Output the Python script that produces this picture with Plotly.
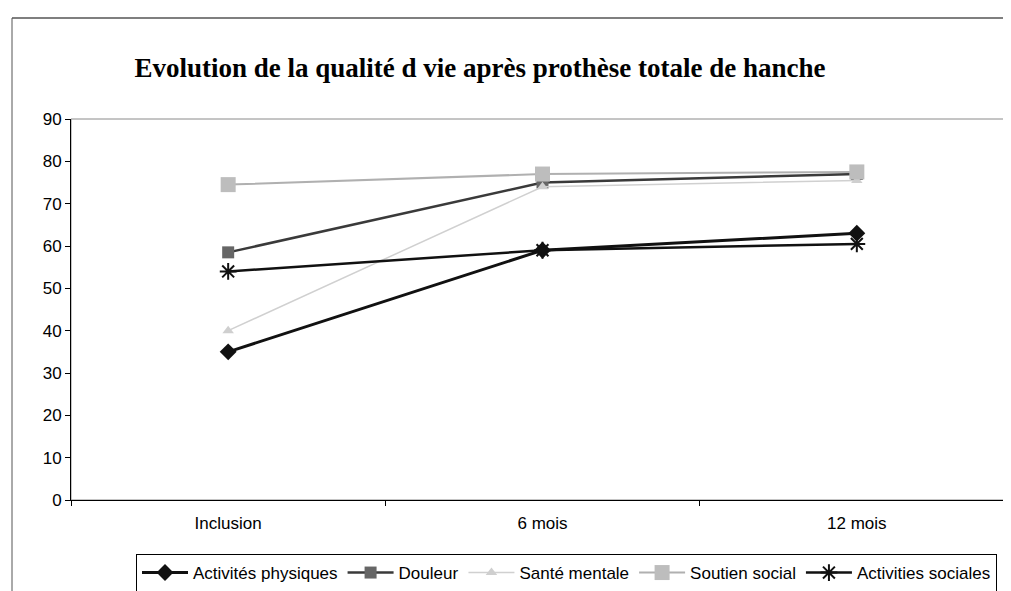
import plotly.graph_objects as go

categories = ["Inclusion", "6 mois", "12 mois"]
activites_physiques = [35, 59, 63]
douleur = [58.5, 75, 77]
sante_mentale = [40, 74, 75.5]
soutien_social = [74.5, 77, 77.5]
activites_sociales = [54, 59, 60.5]
y_ticks = [0, 10, 20, 30, 40, 50, 60, 70, 80, 90]

fig = go.Figure()

fig.add_trace(go.Scatter(
    x=categories, y=activites_physiques, name="Activités physiques", mode="lines+markers",
    line=dict(color="#111111", width=3),
    marker=dict(symbol="diamond", size=13, color="#111111")))
fig.add_trace(go.Scatter(
    x=categories, y=douleur, name="Douleur", mode="lines+markers",
    line=dict(color="#3a3a3a", width=2.5),
    marker=dict(symbol="square", size=12, color="#666666")))
fig.add_trace(go.Scatter(
    x=categories, y=sante_mentale, name="Santé mentale", mode="lines+markers",
    line=dict(color="#d0d0d0", width=1.5),
    marker=dict(symbol="triangle-up", size=10, color="#cfcfcf")))
fig.add_trace(go.Scatter(
    x=categories, y=soutien_social, name="Soutien social", mode="lines+markers",
    line=dict(color="#b0b0b0", width=2),
    marker=dict(symbol="square", size=15, color="#bdbdbd")))
fig.add_trace(go.Scatter(
    x=categories, y=activites_sociales, name="Activities sociales", mode="lines+markers",
    line=dict(color="#111111", width=2.5),
    marker=dict(symbol="asterisk-open", size=14, color="#111111",
                line=dict(color="#111111", width=2))))

L, R, T, B = 63, 5, 111, 99
W, H = 1011, 591
pw, ph = W - L - R, H - T - B

def px_x(x):
    return (x - L) / pw

def px_y(y):
    return (H - B - y) / ph

fig.update_layout(
    width=W, height=H,
    margin=dict(l=L, r=R, t=T, b=B, pad=0),
    paper_bgcolor="white", plot_bgcolor="white",
    font=dict(family="Liberation Sans, Arial, sans-serif", size=17, color="black"),
    title=dict(text="<b>Evolution de la qualité d vie après prothèse totale de hanche</b>",
               font=dict(family="Liberation Serif, Times New Roman, serif", size=27, color="black"),
               x=472 / W, xanchor="center", xref="container",
               y=1 - 60 / H, yanchor="middle", yref="container"),
    showlegend=True,
    legend=dict(orientation="h", x=px_x(128), xanchor="left", y=px_y(546), yanchor="top",
                bordercolor="black", borderwidth=1, bgcolor="white",
                font=dict(family="Liberation Sans, Arial, sans-serif", size=17, color="black"),
                itemwidth=46, tracegroupgap=0),
    xaxis=dict(type="category", range=[-0.5, 2.5], showgrid=False, zeroline=False,
               showline=True, linecolor="black", linewidth=1,
               ticks="outside", tickson="boundaries", ticklen=5, tickcolor="black",
               ticklabelstandoff=8, tickfont=dict(size=17)),
    yaxis=dict(range=[0, 90], tickvals=y_ticks, showgrid=False, zeroline=False,
               showline=True, linecolor="black", linewidth=1,
               ticks="outside", ticklen=5, tickcolor="black",
               tickfont=dict(size=17)),
    shapes=[
        dict(type="rect", xref="paper", yref="paper", x0=0, x1=1, y0=0, y1=1,
             line=dict(color="#8a8a8a", width=1), layer="below"),
        dict(type="line", xref="paper", yref="paper", x0=px_x(4), x1=px_x(4),
             y0=px_y(10), y1=px_y(595), line=dict(color="#555555", width=1)),
        dict(type="line", xref="paper", yref="paper", x0=px_x(4), x1=px_x(1011),
             y0=px_y(10), y1=px_y(10), line=dict(color="#555555", width=1.5)),
    ],
)

fig.write_html("out.html")
